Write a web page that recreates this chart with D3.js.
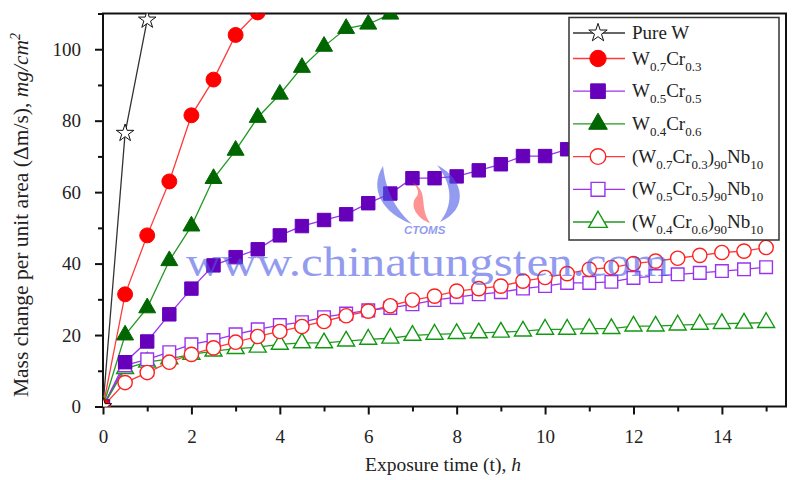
<!DOCTYPE html>
<html><head><meta charset="utf-8">
<script src="https://cdn.jsdelivr.net/npm/d3@7"></script>
<style>body{margin:0;background:#fff}svg{display:block}</style>
</head><body><svg id="c" width="800" height="480"></svg>
<script>
// ---------- data ----------
const timePureW = [0, 0.5, 1];
const pureW = [0, 76.5, 108.2];

const timeW07 = [0, 0.5, 1, 1.5, 2, 2.5, 3, 3.5];
const w07cr03 = [0, 31.4, 47.9, 63, 81.5, 91.5, 104, 110.3];

const timeW04 = [0, 0.5, 1, 1.5, 2, 2.5, 3, 3.5, 4, 4.5, 5, 5.5, 6, 6.5];
const w04cr06 = [0, 20, 27.6, 40.8, 50.5, 63.8, 71.7, 80.9, 87.4, 94.9, 100.8, 105.8, 107, 109.8];

const timeW05 = [0, 0.5, 1, 1.5, 2, 2.5, 3, 3.5, 4, 4.5, 5, 5.5, 6, 6.5, 7, 7.5, 8, 8.5, 9, 9.5, 10, 10.5];
const w05cr05 = [0, 12.4, 18.2, 25.8, 33, 39.5, 41.8, 44, 47.9, 50.5, 52.2, 53.8, 56.9, 59.6, 63.9, 63.9, 64.4, 66.1, 67.8, 70.1, 70.1, 72];

const timeNb = [0, 0.5, 1, 1.5, 2, 2.5, 3, 3.5, 4, 4.5, 5, 5.5, 6, 6.5, 7, 7.5, 8, 8.5, 9, 9.5, 10, 10.5, 11, 11.5, 12, 12.5, 13, 13.5, 14, 14.5, 15];
const w07Nb = [0, 6.7, 9.5, 12.4, 14.6, 16.4, 18, 19.6, 21, 22.4, 23.8, 25.4, 26.7, 28.2, 29.8, 30.9, 32.3, 33, 33.7, 35.1, 36.1, 37.2, 38.4, 38.9, 40, 40.7, 41.5, 42.3, 43.1, 43.5, 44.5];
const w05Nb = [0, 11.5, 13.2, 15.2, 17.4, 18.6, 20.2, 21.6, 22.8, 23.6, 25, 26, 26.9, 27.6, 28.6, 29.8, 30.6, 31.4, 32, 33, 33.7, 34.6, 34.6, 34.9, 36, 36.5, 37, 37.4, 37.9, 38.4, 39];
const w04Nb = [0, 10.6, 12.4, 13.3, 14.6, 15.5, 16.2, 16.6, 17.4, 17.8, 17.8, 18.3, 18.8, 19.1, 19.9, 20.2, 20.4, 20.6, 20.8, 21.1, 21.6, 21.6, 21.8, 21.8, 22.5, 22.5, 22.8, 23, 23.2, 23.3, 23.5];

const xMajorTicks = [0, 2, 4, 6, 8, 10, 12, 14];
const xMinorTicks = [1, 3, 5, 7, 9, 11, 13, 15];
const yMajorTicks = [0, 20, 40, 60, 80, 100];
const yMinorTicks = [10, 30, 50, 70, 90, 110];

// legend label parts: [text, kind] kind: n normal, s subscript
const seriesDefs = [
  {t: timePureW, v: pureW, sym: d3.symbolStar, size: 95, fill: "#fff", stroke: "#111", line: "#333",
   label: [["Pure W","n"]]},
  {t: timeW07, v: w07cr03, sym: d3.symbolCircle, size: 175, fill: "#ff0000", stroke: "#ff0000", line: "#ff3a3a",
   label: [["W","n"],["0.7","s"],["Cr","n"],["0.3","s"]]},
  {t: timeW05, v: w05cr05, sym: d3.symbolSquare, size: 180, fill: "#6600bb", stroke: "#6600bb", line: "#9933ee",
   label: [["W","n"],["0.5","s"],["Cr","n"],["0.5","s"]]},
  {t: timeW04, v: w04cr06, sym: d3.symbolTriangle, size: 125, fill: "#006600", stroke: "#006600", line: "#229922",
   label: [["W","n"],["0.4","s"],["Cr","n"],["0.6","s"]]},
  {t: timeNb, v: w07Nb, sym: d3.symbolCircle, size: 160, fill: "#fff", stroke: "#ff2020", line: "#ff3a3a", open: true,
   label: [["(W","n"],["0.7","s"],["Cr","n"],["0.3","s"],[")","n"],["90","s"],["Nb","n"],["10","s"]]},
  {t: timeNb, v: w05Nb, sym: d3.symbolSquare, size: 160, fill: "#fff", stroke: "#9933ee", line: "#9933ee", open: true,
   label: [["(W","n"],["0.5","s"],["Cr","n"],["0.5","s"],[")","n"],["90","s"],["Nb","n"],["10","s"]]},
  {t: timeNb, v: w04Nb, sym: d3.symbolTriangle, size: 125, fill: "#fff", stroke: "#119911", line: "#229922", open: true,
   label: [["(W","n"],["0.4","s"],["Cr","n"],["0.6","s"],[")","n"],["90","s"],["Nb","n"],["10","s"]]}
];

// ---------- layout ----------
const svg = d3.select("#c");
const FONT = "'Liberation Serif','Times New Roman',serif";
const plot = {l: 103, r: 786, t: 13.5, b: 406.5};
const x = d3.scaleLinear().domain([0, 15.45]).range([plot.l, plot.r]);
const y = d3.scaleLinear().domain([0, 110]).range([plot.b, plot.t]);

svg.append("defs").append("clipPath").attr("id", "clip")
  .append("rect").attr("x", plot.l).attr("y", plot.t).attr("width", plot.r - plot.l).attr("height", plot.b - plot.t);

// axes
function styleAxis(g) {
  g.select(".domain").remove();
  g.selectAll(".tick line").attr("stroke", "#111").attr("stroke-width", 2);
  g.selectAll(".tick text").attr("font-family", FONT).attr("font-size", 19).attr("fill", "#222");
}
const gx = svg.append("g").attr("transform", `translate(0,${plot.b})`)
  .call(d3.axisBottom(x).tickValues(xMajorTicks).tickSize(8).tickPadding(15).tickFormat(d3.format("d")));
styleAxis(gx);
const gxm = svg.append("g").attr("transform", `translate(0,${plot.b})`)
  .call(d3.axisBottom(x).tickValues(xMinorTicks).tickSize(5).tickFormat(""));
styleAxis(gxm);
const gy = svg.append("g").attr("transform", `translate(${plot.l},0)`)
  .call(d3.axisLeft(y).tickValues(yMajorTicks).tickSize(8).tickPadding(14).tickFormat(d3.format("d")));
styleAxis(gy);
const gym = svg.append("g").attr("transform", `translate(${plot.l},0)`)
  .call(d3.axisLeft(y).tickValues(yMinorTicks).tickSize(5).tickFormat(""));
styleAxis(gym);

// frame
svg.append("rect").attr("x", plot.l).attr("y", plot.t).attr("width", plot.r - plot.l).attr("height", plot.b - plot.t)
  .attr("fill", "none").attr("stroke", "#111").attr("stroke-width", 2);

// series
const dataG = svg.append("g").attr("clip-path", "url(#clip)");
const lineGen = d3.line().x(d => x(d[0])).y(d => y(d[1]));
seriesDefs.forEach(s => {
  const pts = s.t.map((t, i) => [t, s.v[i]]);
  dataG.append("path").datum(pts).attr("d", lineGen).attr("fill", "none")
    .attr("stroke", s.line).attr("stroke-width", 1.3);
});
seriesDefs.slice().reverse().forEach(s => {
  const pts = s.t.map((t, i) => [t, s.v[i]]);
  dataG.selectAll(null).data(pts).enter().append("path")
    .attr("transform", d => `translate(${x(d[0])},${y(d[1])})`)
    .attr("d", d3.symbol().type(s.sym).size(s.size))
    .attr("fill", s.fill).attr("stroke", s.stroke).attr("stroke-width", s.open ? 1.4 : 1);
});

// watermark
const wm = svg.append("g").attr("opacity", 0.6);
wm.append("path").attr("d", "M383,166 C368,190 384,214 412,224 C394,208 386,190 383,166 Z").attr("fill", "#4a5ae6");
wm.append("path").attr("d", "M437,165 C466,180 468,210 440,222 C454,204 452,184 437,165 Z").attr("fill", "#4a5ae6");
wm.append("path").attr("d", "M412,182 C430,192 418,206 430,223 C418,219 408,206 417,196 C420,191 416,186 412,182 Z").attr("fill", "#ff4a4a");
wm.append("text").attr("x", 404).attr("y", 234).attr("font-family", "Arial,'Liberation Sans',sans-serif")
  .attr("font-size", 11.5).attr("font-weight", "bold").attr("font-style", "italic").attr("fill", "#4a5ae6").text("CTOMS");
wm.append("text").attr("x", 186).attr("y", 276).attr("font-family", FONT).attr("font-size", 43)
  .attr("textLength", 483).attr("lengthAdjust", "spacingAndGlyphs")
  .attr("fill", "#4a5ae6").text("www.chinatungsten.com");

// legend
const lg = svg.append("g");
lg.append("rect").attr("x", 569).attr("y", 17.5).attr("width", 210).attr("height", 222.5)
  .attr("fill", "#fff").attr("stroke", "#333").attr("stroke-width", 1.5);
const rowY = [33, 58.5, 91.2, 123.9, 156.6, 189.3, 222];
seriesDefs.forEach((s, i) => {
  const ry = rowY[i];
  lg.append("line").attr("x1", 573).attr("x2", 625).attr("y1", ry).attr("y2", ry)
    .attr("stroke", s.line).attr("stroke-width", 1.3);
  lg.append("path").attr("transform", `translate(598,${ry})`)
    .attr("d", d3.symbol().type(s.sym).size(s.size * (s.sym === d3.symbolStar ? 1.1 : 1.2)))
    .attr("fill", s.fill).attr("stroke", s.stroke).attr("stroke-width", s.open ? 1.4 : 1);
  const tx = lg.append("text").attr("x", 632).attr("y", ry + 6)
    .attr("font-family", FONT).attr("font-size", 19).attr("fill", "#222");
  s.label.forEach(([txt, k]) => {
    const sp = tx.append("tspan").text(txt);
    if (k === "s") sp.attr("font-size", 13).attr("baseline-shift", "-6");
  });
});

// axis titles
const xt = svg.append("text").attr("x", 443).attr("y", 471).attr("text-anchor", "middle")
  .attr("font-family", FONT).attr("font-size", 19.5).attr("fill", "#222");
xt.append("tspan").text("Exposure time (t), ");
xt.append("tspan").attr("font-style", "italic").text("h");

const yt = svg.append("text").attr("transform", "translate(28,215) rotate(-90)").attr("text-anchor", "middle")
  .attr("font-family", FONT).attr("font-size", 21.5).attr("fill", "#222");
yt.append("tspan").text("Mass change per unit area (\u0394m/s), ");
yt.append("tspan").attr("font-style", "italic").text("mg/cm");
yt.append("tspan").attr("font-style", "italic").attr("font-size", 14).attr("baseline-shift", "8").text("2");
</script>
</body></html>
